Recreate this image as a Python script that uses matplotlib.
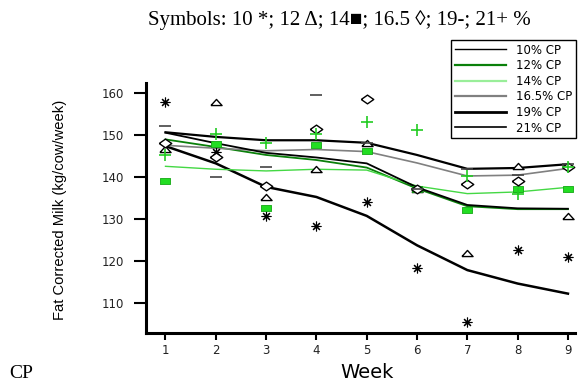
import matplotlib
matplotlib.use('Agg')
import matplotlib.pyplot as plt
from matplotlib.lines import Line2D

weeks = [1, 2, 3, 4, 5, 6, 7, 8, 9]
cp_labels = ['10% CP', '12% CP', '14% CP', '16.5% CP', '19% CP', '21% CP']

# observed weekly means (symbols)
obs_10 = [157.8, 145.8, 130.6, 128.3, 133.9, 118.2, 105.5, 122.5, 120.8]
obs_12 = [146.6, 157.8, 135.1, 141.8, 148.0, 137.0, 121.8, 142.5, 130.6]
obs_14 = [138.9, 147.8, 132.5, 147.6, 146.1, 137.0, 132.1, 137.0, 137.1]
obs_165 = [148.0, 144.6, 137.8, 151.3, 158.4, 137.2, 138.4, 139.1, 142.4]
obs_19 = [152.2, 139.9, 142.4, 159.5, 148.0, 137.0, 141.9, 140.5, 143.0]
obs_21 = [145.2, 150.3, 148.0, 150.3, 153.0, 151.1, 140.2, 136.0, 142.4]

# fitted curves (lines)
fit_10 = [147.3, 143.2, 137.6, 135.2, 130.7, 123.7, 117.8, 114.6, 112.2]
fit_12 = [148.9, 147.1, 145.2, 144.0, 142.2, 137.2, 133.0, 132.3, 132.3]
fit_14 = [142.5, 141.8, 141.4, 141.8, 141.6, 137.8, 136.0, 136.4, 137.5]
fit_165 = [147.5, 146.8, 146.2, 146.5, 146.0, 143.3, 140.2, 140.4, 142.0]
fit_19 = [150.6, 149.5, 148.7, 148.7, 148.1, 145.2, 141.9, 142.1, 143.0]
fit_21 = [150.5, 148.0, 145.7, 144.6, 143.2, 137.5, 133.3, 132.5, 132.4]

tri = [(-1, -0.55), (1, -0.55), (0, 0.55), (-1, -0.55)]
dia = [(-1, 0), (0, 0.7), (1, 0), (0, -0.7), (-1, 0)]
rect = [(-1, -0.7), (1, -0.7), (1, 0.7), (-1, 0.7), (-1, -0.7)]

fig = plt.figure(figsize=(5.86, 3.83), dpi=100)
ax = fig.add_axes([0.2486, 0.1313, 0.7326, 0.6517])

ax.plot(weeks, fit_10, color='black', lw=1.8)
ax.plot(weeks, fit_12, color='#0a800a', lw=1.3)
ax.plot(weeks, fit_14, color='#44d844', lw=1.0)
ax.plot(weeks, fit_165, color='#808080', lw=1.2)
ax.plot(weeks, fit_19, color='black', lw=1.6)
ax.plot(weeks, fit_21, color='black', lw=1.3)

ax.plot(weeks, obs_10, ls='none', marker=(8, 2, 0), ms=7, mew=0.8, color='black')
ax.plot(weeks, obs_12, ls='none', marker=tri, ms=8, mew=1.0, mfc='white', mec='black')
ax.plot(weeks, obs_14, ls='none', marker=rect, ms=7, mew=0.6, mfc='#22dd22', mec='#13a813')
ax.plot(weeks, obs_165, ls='none', marker=dia, ms=9, mew=1.0, mfc='white', mec='black')
ax.plot(weeks, obs_19, ls='none', marker='_', ms=8, mew=1.2, color='#444444')
ax.plot(weeks, obs_21, ls='none', marker='+', ms=9, mew=1.2, color='#22cc22')

ax.set_xlim(0.606, 9.14)
ax.set_ylim(102.9, 162.3)
ax.set_xticks(weeks)
ax.set_yticks([110, 120, 130, 140, 150, 160])
for s in ['top', 'right']:
    ax.spines[s].set_visible(False)
for s in ['left', 'bottom']:
    ax.spines[s].set_linewidth(2.2)
ax.tick_params(axis='y', length=8.6, width=1.5, pad=7, labelsize=8.5)
ax.tick_params(axis='x', length=5, width=1.5, pad=3, labelsize=8.5)
for lab in ax.get_xticklabels() + ax.get_yticklabels():
    lab.set_color('#222222')

handles = [
    Line2D([], [], color='black', lw=1.0),
    Line2D([], [], color='#0a800a', lw=1.6),
    Line2D([], [], color='#99ee99', lw=1.6),
    Line2D([], [], color='#808080', lw=1.6),
    Line2D([], [], color='black', lw=2.0),
    Line2D([], [], color='black', lw=1.2),
]
leg = fig.legend(handles, cp_labels, loc='upper left',
                 bbox_to_anchor=(451 / 586, 1 - 40 / 383), fontsize=8.5,
                 handlelength=4.4, handletextpad=0.8, labelspacing=0.22,
                 borderpad=0.3, borderaxespad=0, fancybox=False, framealpha=1)
leg.get_frame().set_edgecolor('black')
leg.get_frame().set_linewidth(1.0)

fig.text(60 / 586, 1 - 210 / 383, 'Fat Corrected Milk (kg/cow/week)', rotation=90,
         ha='center', va='center', fontsize=10.6, family='Liberation Sans')
fig.text(367 / 586, 1 - 372 / 383, 'Week', ha='center', va='center', fontsize=14)
fig.text(339 / 586, 1 - 20 / 383, 'Symbols: 10 *; 12 \u0394; 14\u25a0; 16.5 \u25ca; 19-; 21+ %',
         ha='center', va='center', fontsize=15,
         family=['Liberation Serif', 'DejaVu Serif'])
fig.text(9 / 586, 1 - 373 / 383, 'CP', ha='left', va='center', fontsize=14,
         family=['Liberation Serif', 'DejaVu Serif'])

fig.savefig('out.png', dpi=100)
